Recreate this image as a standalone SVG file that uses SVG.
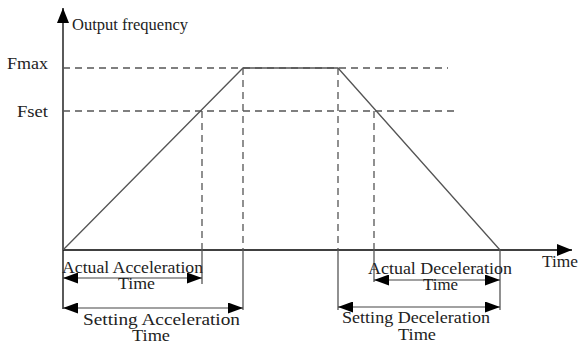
<svg xmlns="http://www.w3.org/2000/svg" width="579" height="344" viewBox="0 0 579 344">
<style>
text{font-family:"Liberation Serif","Times New Roman",serif;fill:#222}
.lbl{font-size:17px}
.small{font-size:16px}
.axis{stroke:#000;stroke-width:1.3;fill:none}
.curve{stroke:#555;stroke-width:1.3;fill:none}
.dash{stroke:#555;stroke-width:1.3;stroke-dasharray:7,5;fill:none}
.guide{stroke:#555;stroke-width:1.3;fill:none}
.dim{stroke:#444;stroke-width:1.2;fill:none;marker-start:url(#ah);marker-end:url(#ah)}
</style>
<defs>
<marker id="ah" viewBox="0 0 15 11" refX="15" refY="5.5" markerWidth="15" markerHeight="11" markerUnits="userSpaceOnUse" orient="auto-start-reverse">
<path d="M0,0 L15,5.5 L0,11 Z" fill="#000"/>
</marker>
<marker id="axh" viewBox="0 0 15 12" refX="15" refY="6" markerWidth="15" markerHeight="12" markerUnits="userSpaceOnUse" orient="auto">
<path d="M0,0 L15,6 L0,12 Z" fill="#000"/>
</marker>
</defs>
<g id="axes">
<line class="axis" x1="63" y1="309" x2="63" y2="8" marker-end="url(#axh)"/>
<line class="axis" x1="63" y1="250" x2="572" y2="250" marker-end="url(#axh)"/>
</g>
<g id="labels">
<text class="lbl" x="72" y="30" textLength="116" lengthAdjust="spacingAndGlyphs">Output frequency</text>
<text class="lbl" x="7" y="69" textLength="41" lengthAdjust="spacingAndGlyphs">Fmax</text>
<text class="lbl" x="17" y="117" textLength="31" lengthAdjust="spacingAndGlyphs">Fset</text>
<text class="lbl" x="542" y="267" textLength="36" lengthAdjust="spacingAndGlyphs">Time</text>
</g>
<g id="guides">
<line class="dash" x1="63" y1="68" x2="448" y2="68"/>
<line class="dash" x1="63" y1="111" x2="455" y2="111"/>
<line class="dash" x1="202" y1="111" x2="202" y2="250"/>
<line class="dash" x1="243" y1="68" x2="243" y2="250"/>
<line class="dash" x1="338" y1="68" x2="338" y2="250"/>
<line class="dash" x1="374" y1="111" x2="374" y2="250"/>
<line class="guide" x1="202" y1="250" x2="202" y2="284"/>
<line class="guide" x1="243" y1="250" x2="243" y2="310"/>
<line class="guide" x1="338" y1="250" x2="338" y2="310"/>
<line class="guide" x1="374" y1="250" x2="374" y2="282"/>
<line class="guide" x1="500" y1="250" x2="500" y2="310"/>
</g>
<g id="curve">
<polyline class="curve" points="63,250 243,68 338,68 500,250"/>
</g>
<g id="connectors">
<line class="dim" x1="63" y1="278" x2="202" y2="278"/>
<line class="dim" x1="63" y1="308" x2="243" y2="308"/>
<line class="dim" x1="374" y1="280" x2="500" y2="280"/>
<line class="dim" x1="338" y1="307" x2="500" y2="307"/>
</g>
<g id="actual-acc">
<text class="small" x="62" y="273" textLength="141" lengthAdjust="spacingAndGlyphs">Actual Acceleration</text>
<text class="small" x="118" y="289" textLength="37" lengthAdjust="spacingAndGlyphs">Time</text>
</g>
<g id="setting-acc">
<text class="small" x="83" y="325" textLength="157" lengthAdjust="spacingAndGlyphs">Setting Acceleration</text>
<text class="small" x="132" y="341" textLength="38" lengthAdjust="spacingAndGlyphs">Time</text>
</g>
<g id="actual-dec">
<text class="small" x="368" y="274" textLength="144" lengthAdjust="spacingAndGlyphs">Actual Deceleration</text>
<text class="small" x="423" y="290" textLength="35" lengthAdjust="spacingAndGlyphs">Time</text>
</g>
<g id="setting-dec">
<text class="small" x="342" y="323" textLength="148" lengthAdjust="spacingAndGlyphs">Setting Deceleration</text>
<text class="small" x="398" y="340" textLength="38" lengthAdjust="spacingAndGlyphs">Time</text>
</g>
</svg>
